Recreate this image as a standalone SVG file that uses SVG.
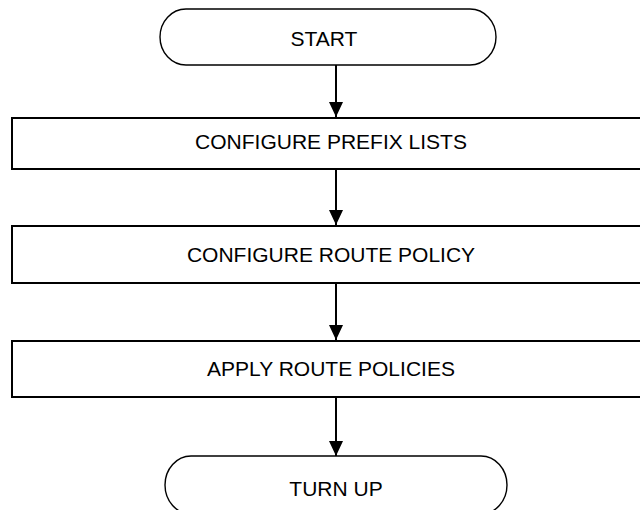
<svg xmlns="http://www.w3.org/2000/svg" width="640" height="510" viewBox="0 0 640 510">
  <style>
    .term { fill: #ffffff; stroke: #000000; stroke-width: 1.4; }
    .step { fill: #ffffff; stroke: #000000; stroke-width: 2; }
    .label { font-family: "Liberation Sans", Arial, sans-serif; font-size: 21px; fill: #000000; text-anchor: middle; }
    .flow { stroke: #000000; stroke-width: 2; fill: none; }
  </style>
  <defs>
    <marker id="arrow" viewBox="0 0 15 14" refX="15" refY="7" markerWidth="15" markerHeight="14" markerUnits="userSpaceOnUse" orient="auto">
      <path d="M0,0 L15,7 L0,14 Z" fill="#000000"/>
    </marker>
  </defs>
  <rect width="640" height="510" fill="#ffffff"/>

  <g id="connectors">
    <line class="flow" x1="336" y1="65" x2="336" y2="117" marker-end="url(#arrow)"/>
    <line class="flow" x1="336" y1="169" x2="336" y2="225" marker-end="url(#arrow)"/>
    <line class="flow" x1="336" y1="283" x2="336" y2="340" marker-end="url(#arrow)"/>
    <line class="flow" x1="336" y1="397" x2="336" y2="456" marker-end="url(#arrow)"/>
  </g>

  <g id="start">
    <rect class="term" x="160" y="9" width="336" height="56" rx="26" ry="28"/>
    <text class="label" x="324" y="46">START</text>
  </g>

  <g id="configure-prefix-lists">
    <rect class="step" x="12" y="118" width="638" height="51"/>
    <text class="label" x="331" y="148.5">CONFIGURE PREFIX LISTS</text>
  </g>

  <g id="configure-route-policy">
    <rect class="step" x="12" y="226" width="638" height="57"/>
    <text class="label" x="331" y="262">CONFIGURE ROUTE POLICY</text>
  </g>

  <g id="apply-route-policies">
    <rect class="step" x="12" y="341" width="638" height="56"/>
    <text class="label" x="331" y="376">APPLY ROUTE POLICIES</text>
  </g>

  <g id="turn-up">
    <rect class="term" x="165" y="456" width="342" height="58" rx="26" ry="29"/>
    <text class="label" x="336" y="496">TURN UP</text>
  </g>
</svg>
